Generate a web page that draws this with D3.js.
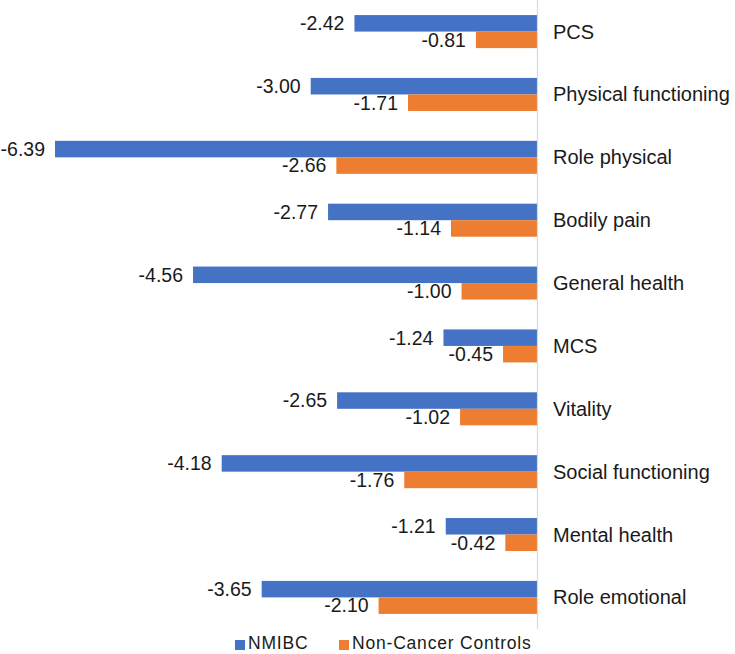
<!DOCTYPE html>
<html><head><meta charset="utf-8">
<script src="https://cdn.jsdelivr.net/npm/d3@7"></script>
<style>body{margin:0;background:#fff}svg{display:block}text{font-family:"Liberation Sans",Arial,sans-serif}</style>
</head><body><svg id="c" width="735" height="654"></svg>
<script>
const categories = ["PCS","Physical functioning","Role physical","Bodily pain","General health","MCS","Vitality","Social functioning","Mental health","Role emotional"];
const nmibc = [-2.42,-3.00,-6.39,-2.77,-4.56,-1.24,-2.65,-4.18,-1.21,-3.65];
const controls = [-0.81,-1.71,-2.66,-1.14,-1.00,-0.45,-1.02,-1.76,-0.42,-2.10];
const seriesNames = ["NMIBC","Non-Cancer Controls"];
const colors = ["#4472C4","#ED7D31"];

const svg = d3.select("#c");
const x = d3.scaleLinear().domain([-6.39,0]).range([55,537]);
const y = d3.scaleBand().domain(categories).range([0,629]).paddingInner(0.475).paddingOuter(0.24);
const sub = d3.scaleBand().domain([0,1]).range([0,y.bandwidth()]);
const series = [nmibc, controls];

series.forEach((vals,si)=>{
  const g = svg.append("g");
  g.selectAll("rect").data(categories).join("rect")
    .attr("x",(d,i)=>x(vals[i])).attr("width",(d,i)=>x(0)-x(vals[i]))
    .attr("y",d=>y(d)+sub(si)).attr("height",sub.bandwidth())
    .attr("fill",colors[si]);
  g.selectAll("text").data(categories).join("text")
    .attr("x",(d,i)=>x(vals[i])-10).attr("y",d=>y(d)+sub(si)+sub.bandwidth()/2)
    .attr("dy","0.35em").attr("text-anchor","end").attr("font-size",19.5).attr("fill","#1a1a1a")
    .text((d,i)=>vals[i].toFixed(2));
});

svg.append("line").attr("x1",x(0)+0.5).attr("x2",x(0)+0.5).attr("y1",0).attr("y2",629)
  .attr("stroke","#d9d9d9").attr("stroke-width",1.2);

svg.append("g").selectAll("text").data(categories).join("text")
  .attr("x",553).attr("y",d=>y(d)+y.bandwidth()/2).attr("dy","0.35em")
  .attr("font-size",20).attr("fill","#1a1a1a").text(d=>d);

const leg = svg.append("g");
const lx = [235,339];
seriesNames.forEach((n,i)=>{
  leg.append("rect").attr("x",lx[i]).attr("y",640).attr("width",10).attr("height",10).attr("fill",colors[i]);
  leg.append("text").attr("x",lx[i]+13).attr("y",643).attr("dy","0.35em").attr("font-size",17.5)
    .attr("letter-spacing",0.8).attr("fill","#1a1a1a").text(n);
});
</script></body></html>
